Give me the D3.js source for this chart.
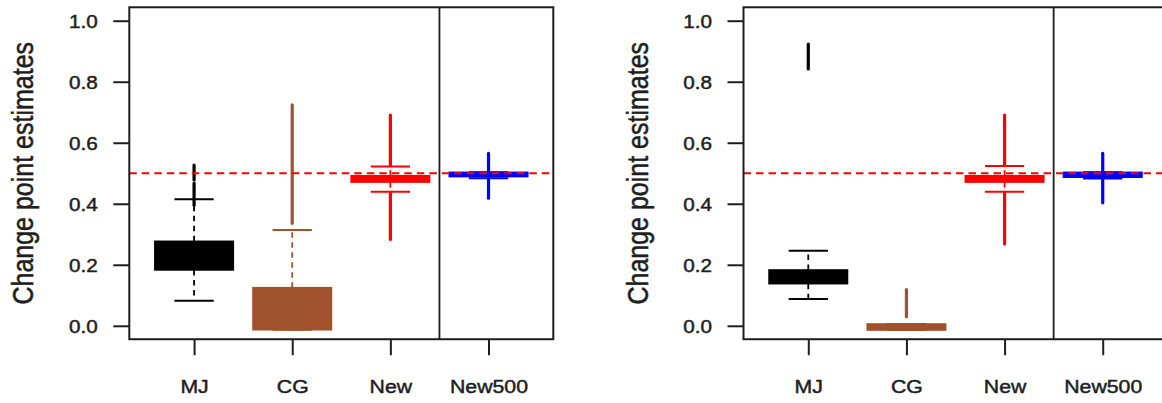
<!DOCTYPE html>
<html>
<head>
<meta charset="utf-8">
<script src="https://cdn.jsdelivr.net/npm/d3@7"></script>
<style>
  body { margin: 0; background: #fff; }
  svg { display: block; }
</style>
</head>
<body>
<svg id="chart" width="1162" height="403"></svg>
<script>
// Methods compared in each panel
const categories = ["MJ", "CG", "New", "New500"];
const seriesColors = ["#000000", "#A0522D", "#FF0000", "#0000FF"];
const yTicks = [0.0, 0.2, 0.4, 0.6, 0.8, 1.0];
const trueChangePoint = 0.5;
const methodDivider = 3.5;

// Panel A: box-plot summaries per method
const lowerWhiskerA = [0.082, -0.013, 0.439, 0.484];
const q1A           = [0.183, -0.013, 0.471, 0.489];
const medianA       = [0.230,  0.040, 0.480, 0.497];
const q3A           = [0.277,  0.125, 0.492, 0.503];
const upperWhiskerA = [0.415,  0.314, 0.522, 0.503];
const outlierSpansA = [
  [[0.395, 0.468], [0.478, 0.527]],
  [[0.336, 0.724]],
  [[0.525, 0.691], [0.283, 0.436]],
  [[0.418, 0.565]]
];

// Panel B: box-plot summaries per method
const lowerWhiskerB = [0.088, -0.014, 0.439, 0.483];
const q1B           = [0.138, -0.014, 0.471, 0.487];
const medianB       = [0.160,  0.000, 0.480, 0.496];
const q3B           = [0.183,  0.006, 0.492, 0.503];
const upperWhiskerB = [0.246,  0.006, 0.524, 0.503];
const outlierSpansB = [
  [[0.842, 0.923]],
  [[0.030, 0.119]],
  [[0.527, 0.691], [0.268, 0.436]],
  [[0.403, 0.565]]
];

const FONT = "'Liberation Sans', Arial, Helvetica, sans-serif";
const INK = "#1e1e1e";
const STRETCH = 1.15;   // text is set slightly wide

const svg = d3.select("#chart");
svg.append("rect").attr("width", 1162).attr("height", 403).attr("fill", "#fff");

function styleText(sel, size) {
  sel.attr("fill", INK)
    .attr("stroke", INK).attr("stroke-width", 0.45)
    .style("font-family", FONT).style("font-size", size);
}

function drawPanel(left, stats) {
  const plotW = 424;
  const x = d3.scaleLinear().domain([0.34, 4.66]).range([left, left + plotW]);
  const y = d3.scaleLinear().domain([0, 1]).range([325.8, 20.7]);
  const yTop = y(1.044), yBottom = y(-0.044);

  const g = svg.append("g");
  const rows = categories.map((c, i) => ({
    pos: i + 1, color: seriesColors[i],
    lo: stats.lower[i], q1: stats.q1[i], med: stats.median[i],
    q3: stats.q3[i], hi: stats.upper[i], out: stats.outliers[i]
  }));

  // dashed whiskers
  rows.forEach(d => {
    [[d.q3, d.hi], [d.q1, d.lo]].forEach(([a, b]) => {
      if (a === b) return;
      g.append("line")
        .attr("x1", x(d.pos)).attr("x2", x(d.pos))
        .attr("y1", y(a)).attr("y2", y(b))
        .attr("stroke", d.color).attr("stroke-width", 1.8)
        .attr("stroke-dasharray", "5.5,4.5");
    });
  });

  // staples
  rows.forEach(d => {
    [d.lo, d.hi].forEach(v => {
      g.append("line")
        .attr("x1", x(d.pos - 0.2)).attr("x2", x(d.pos + 0.2))
        .attr("y1", y(v)).attr("y2", y(v))
        .attr("stroke", d.color).attr("stroke-width", 2);
    });
  });

  // boxes
  g.selectAll(null).data(rows).join("rect")
    .attr("x", d => x(d.pos - 0.4))
    .attr("width", d => x(d.pos + 0.4) - x(d.pos - 0.4))
    .attr("y", d => y(d.q3))
    .attr("height", d => y(d.q1) - y(d.q3))
    .attr("fill", d => d.color)
    .attr("stroke", d => d.color)
    .attr("stroke-width", 1.5);

  // medians
  g.selectAll(null).data(rows).join("line")
    .attr("x1", d => x(d.pos - 0.4)).attr("x2", d => x(d.pos + 0.4))
    .attr("y1", d => y(d.med)).attr("y2", d => y(d.med))
    .attr("stroke", d => d.color).attr("stroke-width", 3);

  // outliers (densely stacked, drawn as runs)
  rows.forEach(d => {
    d.out.forEach(([a, b]) => {
      g.append("line")
        .attr("x1", x(d.pos)).attr("x2", x(d.pos))
        .attr("y1", y(a)).attr("y2", y(b))
        .attr("stroke", d.color).attr("stroke-width", 3.2)
        .attr("stroke-linecap", "round");
    });
  });

  // reference line at the true change point
  g.append("line")
    .attr("x1", left).attr("x2", left + plotW)
    .attr("y1", y(trueChangePoint)).attr("y2", y(trueChangePoint))
    .attr("stroke", "#FF0000").attr("stroke-width", 2)
    .attr("stroke-dasharray", "7.5,5");

  // divider between the methods
  g.append("line")
    .attr("x1", x(methodDivider)).attr("x2", x(methodDivider))
    .attr("y1", yTop).attr("y2", yBottom)
    .attr("stroke", INK).attr("stroke-width", 1.8);

  // frame
  g.append("rect")
    .attr("x", left).attr("y", yTop)
    .attr("width", plotW).attr("height", yBottom - yTop)
    .attr("fill", "none").attr("stroke", INK).attr("stroke-width", 2);

  // y axis
  const ya = g.append("g").attr("transform", `translate(${left},0)`)
    .call(d3.axisLeft(y).tickValues(yTicks).tickSize(16).tickFormat(d3.format(".1f")));
  ya.select(".domain").remove();
  ya.selectAll(".tick line").attr("stroke", INK).attr("stroke-width", 2);
  ya.selectAll(".tick text")
    .attr("x", 0).attr("dy", "0.35em")
    .attr("transform", `translate(-31.6,0) scale(${STRETCH},1)`)
    .attr("text-anchor", "end")
    .call(styleText, "18px");

  // x axis
  const xa = g.append("g").attr("transform", `translate(0,${yBottom})`)
    .call(d3.axisBottom(x).tickValues([1, 2, 3, 4]).tickSize(16)
      .tickFormat(d => categories[d - 1]));
  xa.select(".domain").remove();
  xa.selectAll(".tick line").attr("stroke", INK).attr("stroke-width", 2);
  xa.selectAll(".tick text")
    .attr("y", 0).attr("dy", 0)
    .attr("transform", `translate(0,53.8) scale(${STRETCH},1)`)
    .attr("text-anchor", "middle")
    .call(styleText, "18.5px");

  // y axis title
  g.append("text")
    .attr("transform", `translate(${left - 96},${(yTop + yBottom) / 2}) scale(${STRETCH},1) rotate(-90)`)
    .attr("text-anchor", "middle")
    .call(styleText, "25px")
    .text("Change point estimates");
}

drawPanel(129.3, {
  lower: lowerWhiskerA, q1: q1A, median: medianA, q3: q3A,
  upper: upperWhiskerA, outliers: outlierSpansA
});
drawPanel(743.5, {
  lower: lowerWhiskerB, q1: q1B, median: medianB, q3: q3B,
  upper: upperWhiskerB, outliers: outlierSpansB
});
</script>
</body>
</html>
